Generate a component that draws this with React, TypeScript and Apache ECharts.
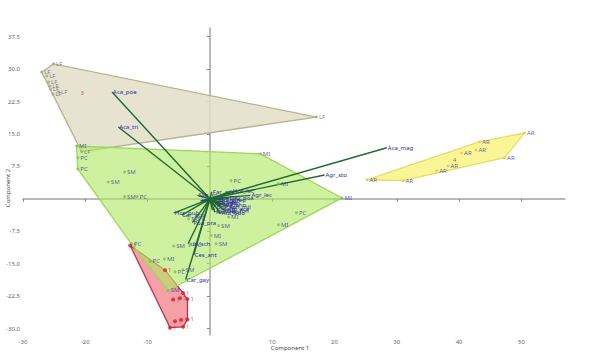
import React, { useEffect, useRef } from "react";
import * as echarts from "echarts";

// Axis ticks
const xTicks = [-30, -20, -10, 10, 20, 30, 40, 50];
const yTicks = [-30, -22.5, -15, -7.5, 7.5, 15, 22.5, 30, 37.5];

// Group LF (tan)
const lfX = [-25.1, -27.0, -26.2, -25.9, -25.7, -25.6, -25.2, -24.3, -20.6, 17.1];
const lfY = [31.2, 29.3, 28.4, 27.0, 26.1, 25.4, 24.2, 24.7, 10.9, 18.9];
const lfLabels = ["LF", "LF", "LF", "LF", "LF", "LF", "LF", "LF", "LF", "LF"];

// Group AR (yellow)
const arX = [25.2, 31.0, 36.4, 38.2, 40.4, 42.7, 43.3, 47.3, 50.5];
const arY = [4.4, 4.2, 6.5, 7.6, 10.6, 11.3, 13.2, 9.5, 15.2];
const arLabels = ["AR", "AR", "AR", "AR", "AR", "AR", "AR", "AR", "AR"];

// Group green (MI / SM / PC)
const grX = [-21.4, -21.2, -21.2, -13.7, -16.3, -13.7, -11.7, 8.1, 3.4, 11.0, 21.2, 13.9, 11.0, 1.4, 3.0, 0.2, 1.0, -5.8, -3.2, -7.3, -5.6, -4.3, -9.6, -12.6, -6.7, -3.4, -2.3];
const grY = [12.2, 9.5, 6.9, 6.2, 3.9, 0.5, 0.5, 10.4, 4.2, 3.5, 0.2, -3.2, -6.0, -6.2, -4.2, -8.5, -10.4, -10.9, -10.4, -13.9, -16.9, -16.4, -14.5, -10.4, -21.2, -4.6, -4.6];
const grLabels = ["MI", "PC", "PC", "SM", "SM", "SM", "PC", "MI", "PC", "MI", "MI", "PC", "MI", "SM", "MI", "MI", "SM", "SM", "SM", "MI", "PC", "SM", "PC", "PC", "SM", "MI", "PC"];

// Group red
const rdX = [-12.8, -7.2, -4.3, -3.6, -3.6, -4.3, -6.4, -5.6, -4.6, -4.8, -5.9];
const rdY = [-10.8, -16.5, -21.8, -23.2, -27.9, -29.6, -29.8, -28.3, -28.0, -23.0, -23.3];
const rdLabels = ["1", "1", "1", "1", "1", "1", "1", "1", "1", "1", "1"];

// Group tags (red numbers)
const tagX = [-20.5, 39.3];
const tagY = [24.5, 9.0];
const tagLabels = ["3", "4"];

// Loadings (biplot vectors)
const loadNames = ["Aca_poe", "Aca_tri", "Aca_mag", "Agr_sto", "Jun_sch", "Ces_ant", "Car_gay", "Hor_pub", "Lar_acu", "Poa_pra", "Syn_sp", "Far_ant", "Hor_lec", "Agr_lec", "Dey_poa", "Vic_sp",
  "Fes_rub", "Tri_rep", "Poa_ann", "Bro_sp", "Ely_rep", "Leo_aut", "Pla_lan", "Ach_mil", "Ran_rep", "Rum_ace", "Hol_lan", "Tar_off", "Cer_fon", "Ant_odo"];
const loadX = [-15.7, -14.7, 28.4, 18.4, -3.5, -2.6, -3.9, -5.8, -4.5, -2.8, -2.0, 0.3, 3.5, 6.5, 3.0, -1.5,
  0.6, 1.2, 1.8, 0.9, 2.4, 0.4, 1.5, 2.9, 0.8, 2.1, 1.3, 0.5, 2.6, 1.7];
const loadY = [24.7, 16.6, 11.8, 5.5, -10.4, -13.0, -18.7, -3.3, -3.8, -5.5, 0.8, 1.6, 1.8, 0.8, 0.2, -0.5,
  -0.6, -1.0, -1.5, -2.0, -0.3, -2.6, -0.9, -1.8, -3.1, -2.4, -0.2, -1.3, -2.9, -3.4];

function hull(pts: number[][]): number[][] {
  const p = pts.slice().sort((a, b) => a[0] - b[0] || a[1] - b[1]);
  const cross = (o: number[], a: number[], b: number[]) => (a[0] - o[0]) * (b[1] - o[1]) - (a[1] - o[1]) * (b[0] - o[0]);
  const lower: number[][] = [];
  for (const q of p) {
    while (lower.length >= 2 && cross(lower[lower.length - 2], lower[lower.length - 1], q) <= 0) lower.pop();
    lower.push(q);
  }
  const upper: number[][] = [];
  for (let i = p.length - 1; i >= 0; i--) {
    const q = p[i];
    while (upper.length >= 2 && cross(upper[upper.length - 2], upper[upper.length - 1], q) <= 0) upper.pop();
    upper.push(q);
  }
  upper.pop();
  lower.pop();
  return lower.concat(upper);
}

const zip = (xs: number[], ys: number[]) => xs.map((x, i) => [x, ys[i]]);

function hullSeries(xs: number[], ys: number[], fill: string, stroke: string, z: number) {
  const h = hull(zip(xs, ys));
  return {
    type: "custom",
    silent: true,
    z,
    data: [[xs[0], ys[0]]],
    renderItem: (_params: any, api: any) => ({
      type: "polygon",
      shape: { points: h.map((p) => api.coord(p)) },
      style: { fill, stroke, lineWidth: 1.3 },
    }),
  };
}

const FONT = "Noto Sans";

function pointSeries(xs: number[], ys: number[], names: string[], color: string, labelColor: string, size: number) {
  return {
    type: "scatter",
    z: 6,
    symbol: "circle",
    symbolSize: size,
    itemStyle: { color },
    data: xs.map((x, i) => ({ value: [x, ys[i]], name: names[i] })),
    label: {
      show: true,
      position: "right",
      distance: 1,
      formatter: "{b}",
      fontSize: 6,
      fontFamily: FONT,
      color: labelColor,
    },
  };
}

export default function App() {
  const ref = useRef<HTMLDivElement>(null);
  useEffect(() => {
    if (!ref.current) return;
    const chart = echarts.init(ref.current, undefined, { renderer: "svg" });
    const axisColor = "#a2a2a2";
    chart.setOption({
      animation: false,
      backgroundColor: "#ffffff",
      grid: { left: 23, right: 35, top: 28, bottom: 25, containLabel: false, outerBoundsMode: "none" },
      xAxis: {
        type: "value",
        min: -30,
        max: 57,
        axisLine: { onZero: true, lineStyle: { color: axisColor, width: 1.5 } },
        axisTick: { show: true, customValues: xTicks, length: 3, lineStyle: { color: "#888" } },
        axisLabel: { customValues: xTicks, fontSize: 6, fontFamily: FONT, color: "#666", margin: 4 },
        splitLine: { show: false },
      },
      yAxis: {
        type: "value",
        min: -31.5,
        max: 39.5,
        axisLine: { onZero: true, lineStyle: { color: axisColor, width: 1.5 } },
        axisTick: { show: true, customValues: yTicks, length: 3, lineStyle: { color: "#888" } },
        axisLabel: {
          customValues: yTicks,
          fontSize: 6,
          fontFamily: FONT,
          color: "#666",
          margin: 3,
          formatter: (v: number) => v.toFixed(1),
        },
        splitLine: { show: false },
      },
      graphic: [
        { type: "text", x: 290, y: 348, style: { text: "Component 1", fontSize: 6, fontFamily: FONT, fill: "#444", align: "center", verticalAlign: "middle" } },
        { type: "text", x: 8, y: 188, rotation: Math.PI / 2, style: { text: "Component 2", fontSize: 6, fontFamily: FONT, fill: "#444", align: "center", verticalAlign: "middle" } },
      ],
      series: [
        hullSeries(lfX, lfY, "rgba(226,222,200,0.85)", "#b9b48e", 1),
        hullSeries(rdX, rdY, "rgba(242,150,156,0.9)", "#c23447", 1),
        hullSeries(grX, grY, "rgba(176,232,100,0.62)", "#9fd65e", 2),
        hullSeries(arX, arY, "rgba(250,244,130,0.85)", "#e6dc6a", 2),
        {
          type: "custom",
          z: 4,
          silent: true,
          data: loadX.map((x, i) => [x, loadY[i]]),
          renderItem: (params: any, api: any) => {
            const o = api.coord([0, 0]);
            const e = api.coord([api.value(0), api.value(1)]);
            return {
              type: "group",
              children: [
                { type: "line", shape: { x1: o[0], y1: o[1], x2: e[0], y2: e[1] }, style: { stroke: "#1f6b2f", lineWidth: 1.4 } },
                {
                  type: "text",
                  x: e[0] + 1,
                  y: e[1],
                  style: { text: loadNames[params.dataIndex], fill: "#2a2aa6", fontSize: 6, fontFamily: FONT, verticalAlign: "middle" },
                },
              ],
            };
          },
        },
        pointSeries(lfX, lfY, lfLabels, "#a8a27a", "#5a5a78", 3),
        pointSeries(arX, arY, arLabels, "#d9cf40", "#3535a0", 3),
        pointSeries(grX, grY, grLabels, "#7cc44a", "#3535a0", 3),
        pointSeries(rdX, rdY, rdLabels, "#d41e2c", "#b02a3a", 4),
        {
          type: "scatter",
          z: 6,
          symbolSize: 0,
          data: tagX.map((x, i) => ({ value: [x, tagY[i]], name: tagLabels[i] })),
          label: { show: true, position: "inside", formatter: "{b}", fontSize: 6, fontFamily: FONT, color: "#d02020" },
        },
      ],
    });
    return () => chart.dispose();
  }, []);
  return <div ref={ref} style={{ position: "fixed", left: 0, top: 0, width: 600, height: 360 }} />;
}
